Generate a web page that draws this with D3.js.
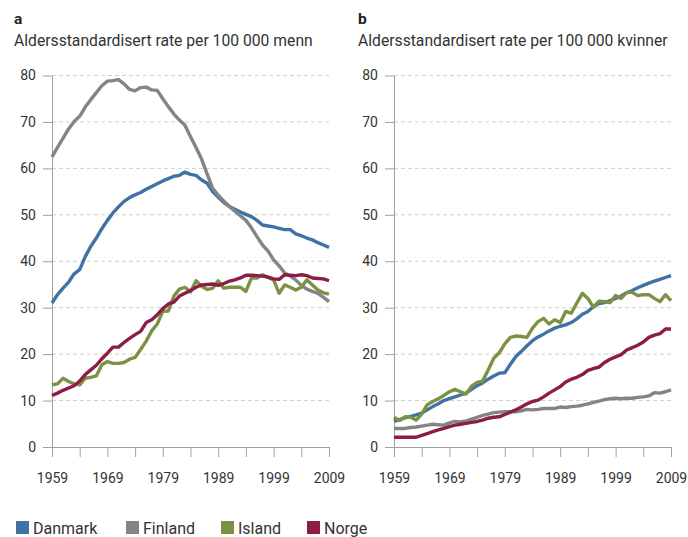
<!DOCTYPE html>
<html>
<head>
<meta charset="utf-8">
<script src="https://cdn.jsdelivr.net/npm/d3@7"></script>
<style>
  body { margin: 0; background: #fff; }
  svg { font-family: Roboto, "Noto Sans", sans-serif; }
</style>
</head>
<body>
<svg id="chart" width="688" height="537"></svg>
<script>
// år og serier (aldersstandardisert rate per 100 000)
var years = d3.range(1959, 2010);
var countries = ["Danmark", "Finland", "Island", "Norge"];
var colors = ["#3f72a5", "#848484", "#7d9143", "#8c1c48"];
var yTicks = [0, 10, 20, 30, 40, 50, 60, 70, 80];
var xLabelYears = [1959, 1969, 1979, 1989, 1999, 2009];

// menn
var danmarkMenn = [31.0,32.8,34.2,35.5,37.3,38.2,41.0,43.2,45.0,47.0,48.8,50.4,51.7,52.9,53.7,54.3,54.8,55.5,56.1,56.7,57.3,57.8,58.3,58.5,59.2,58.7,58.5,57.5,56.8,55.0,53.8,52.7,51.8,51.2,50.6,50.1,49.6,48.8,47.8,47.6,47.4,47.1,46.8,46.8,45.9,45.5,45.0,44.6,44.0,43.5,43.0];
var finlandMenn = [62.5,64.5,66.5,68.5,70.1,71.2,73.2,74.8,76.3,77.8,78.8,78.9,79.1,78.2,77.0,76.7,77.4,77.5,76.9,76.8,75.0,73.3,71.7,70.4,69.3,66.8,64.5,62.0,58.8,55.7,54.2,53.0,51.8,50.8,49.8,48.8,47.2,45.3,43.5,42.2,40.3,39.0,37.5,36.8,36.0,34.8,34.0,33.5,33.1,32.2,31.3];
var islandMenn = [13.4,13.6,14.8,14.1,13.6,13.4,14.8,15.0,15.3,17.7,18.4,18.0,18.0,18.2,18.9,19.3,21.0,22.8,25.0,26.5,29.2,29.3,32.5,34.0,34.4,33.4,35.8,34.6,33.9,34.2,35.8,34.2,34.4,34.4,34.4,33.5,36.4,36.4,37.1,36.5,36.0,33.1,34.9,34.4,33.8,34.4,36.0,34.9,33.8,33.2,32.9];
var norgeMenn = [11.1,11.6,12.2,12.7,13.2,14.2,15.6,16.6,17.6,19.0,20.2,21.5,21.5,22.5,23.4,24.2,24.9,26.8,27.4,28.5,29.8,30.8,31.2,32.5,33.1,33.7,34.4,34.9,35.0,35.1,34.8,35.2,35.7,36.0,36.4,37.0,37.0,36.9,36.8,36.6,36.2,36.1,37.1,37.0,36.9,37.1,36.9,36.4,36.3,36.2,35.8];

// kvinner
var danmarkKvinner = [5.5,5.9,6.3,6.6,6.9,7.3,8.0,8.7,9.3,10.0,10.4,10.8,11.2,11.6,12.4,13.2,13.8,14.6,15.3,15.9,16.0,17.8,19.5,20.6,21.8,22.9,23.7,24.3,25.0,25.6,26.0,26.3,26.8,27.6,28.6,29.2,30.2,30.9,31.1,31.5,32.0,32.5,33.2,33.7,34.3,34.8,35.3,35.7,36.1,36.5,36.9];
var finlandKvinner = [4.0,4.0,4.0,4.2,4.3,4.5,4.7,4.9,4.8,4.7,5.2,5.5,5.4,5.6,6.0,6.4,6.8,7.1,7.4,7.5,7.6,7.6,7.6,7.8,8.1,8.0,8.1,8.3,8.3,8.3,8.6,8.5,8.7,8.8,9.0,9.3,9.6,9.9,10.2,10.4,10.5,10.4,10.5,10.5,10.7,10.8,11.0,11.7,11.6,11.9,12.3];
var islandKvinner = [6.4,5.7,6.5,6.4,5.8,7.1,9.1,9.8,10.4,11.1,11.9,12.4,11.9,11.4,13.1,13.9,14.2,16.6,19.1,20.3,22.2,23.6,23.9,23.8,23.6,25.6,27.0,27.7,26.5,27.4,26.8,29.2,28.8,31.0,33.1,32.0,30.1,31.4,31.3,31.1,32.6,32.0,33.3,33.3,32.6,32.8,32.8,32.0,31.3,32.8,31.5];
var norgeKvinner = [2.1,2.1,2.1,2.1,2.1,2.5,2.9,3.3,3.7,4.0,4.4,4.7,4.9,5.1,5.3,5.5,5.8,6.2,6.4,6.5,7.0,7.5,8.0,8.6,9.3,9.8,10.1,10.8,11.6,12.3,13.0,14.0,14.6,15.0,15.6,16.5,16.9,17.2,18.2,18.9,19.4,19.9,20.9,21.4,21.9,22.6,23.6,24.1,24.4,25.4,25.4];

var panels = [
  {letter: "a", title: "Aldersstandardisert rate per 100 000 menn", x0: 52, x1: 329, tx: 14,
   series: [danmarkMenn, finlandMenn, islandMenn, norgeMenn]},
  {letter: "b", title: "Aldersstandardisert rate per 100 000 kvinner", x0: 394, x1: 671, tx: 358,
   series: [danmarkKvinner, finlandKvinner, islandKvinner, norgeKvinner]}
];

var svg = d3.select("#chart");
var y = d3.scaleLinear().domain([0, 80]).range([447, 75.5]);

panels.forEach(function (p) {
  var x = d3.scaleLinear().domain([1959, 2009]).range([p.x0, p.x1]);
  var g = svg.append("g");

  // overskrift
  g.append("text").attr("x", p.tx).attr("y", 24)
    .attr("font-size", 15.5).attr("font-weight", "bold").attr("fill", "#222")
    .text(p.letter);
  g.append("text").attr("x", p.tx).attr("y", 46)
    .attr("font-size", 15.7).attr("fill", "#333")
    .text(p.title);

  // rutenett
  g.selectAll(".grid").data(yTicks.slice(1)).enter().append("line")
    .attr("x1", p.x0).attr("x2", p.x1)
    .attr("y1", function (d) { return y(d); }).attr("y2", function (d) { return y(d); })
    .attr("stroke", "#cfcfcf").attr("stroke-width", 1).attr("stroke-dasharray", "4,3");

  // y-akse
  var ya = g.append("g").attr("transform", "translate(" + p.x0 + ",0)")
    .call(d3.axisLeft(y).tickValues(yTicks).tickSize(9).tickPadding(7).tickSizeOuter(0));
  ya.select(".domain").attr("stroke", "#a0a0a0");
  ya.selectAll(".tick line").attr("stroke", "#a0a0a0");
  ya.selectAll("text").attr("font-size", 14).attr("fill", "#333").attr("font-family", "Roboto");

  // x-akse
  var xa = g.append("g").attr("transform", "translate(0,447)")
    .call(d3.axisBottom(x).tickValues(d3.range(1959, 2010, 5)).tickSize(10).tickSizeOuter(0)
      .tickFormat(function (d) { return xLabelYears.indexOf(d) >= 0 ? d : ""; }).tickPadding(16));
  xa.select(".domain").attr("stroke", "#a0a0a0");
  xa.selectAll(".tick line").attr("stroke", "#a0a0a0");
  xa.selectAll("text").attr("font-size", 14).attr("fill", "#333").attr("font-family", "Roboto");

  var line = d3.line()
    .x(function (d, i) { return x(years[i]); })
    .y(function (d) { return y(d); });

  p.series.forEach(function (s, k) {
    g.append("path").datum(s)
      .attr("d", line)
      .attr("fill", "none")
      .attr("stroke", colors[k])
      .attr("stroke-width", 3.4)
      .attr("stroke-linejoin", "round");
  });
});

// forklaring
var legendX = [16, 126, 221, 307];
var lg = svg.selectAll(".legend").data(countries).enter().append("g")
  .attr("transform", function (d, i) { return "translate(" + legendX[i] + ",521)"; });
lg.append("rect").attr("width", 13).attr("height", 13)
  .attr("fill", function (d, i) { return colors[i]; });
lg.append("text").attr("x", 17).attr("y", 12.5)
  .attr("font-size", 16).attr("fill", "#333")
  .text(function (d) { return d; });
</script>
</body>
</html>
